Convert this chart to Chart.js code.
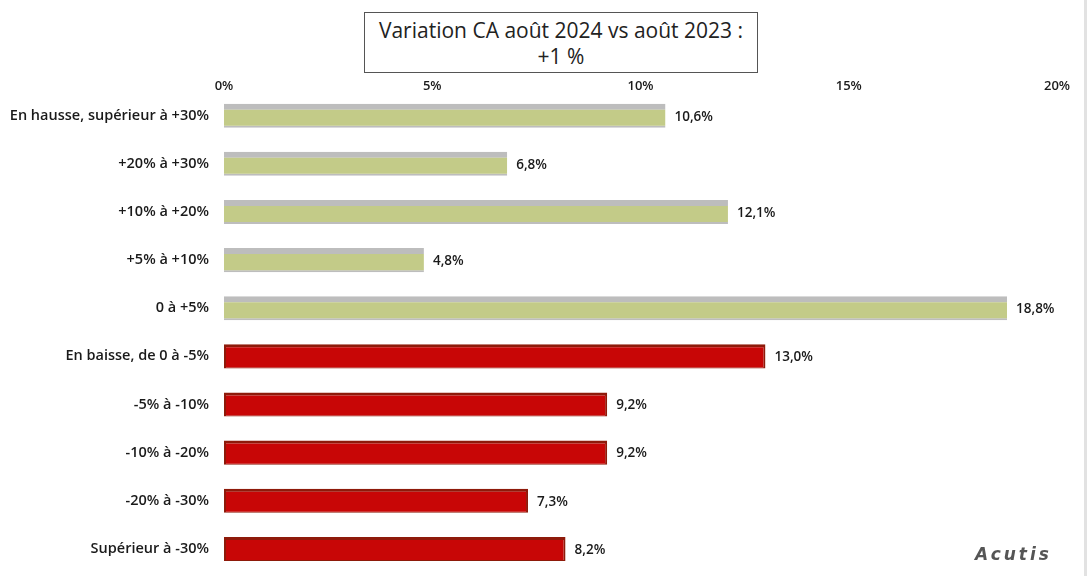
<!DOCTYPE html>
<html>
<head>
<meta charset="utf-8">
<script src="https://cdn.jsdelivr.net/npm/chart.js@4.4.1/dist/chart.umd.min.js"></script>
<style>
  html, body { margin: 0; padding: 0; background: #fff; }
  #wrap { position: relative; width: 1090px; height: 581px; overflow: hidden; }
  #c { position: absolute; left: 0; top: 0; }
  #title {
    position: absolute; left: 364px; top: 12px; width: 394px; height: 61px;
    border: 1px solid #555; box-sizing: border-box; text-align: center;
    font-family: "Open Sans", "DejaVu Sans", sans-serif; font-size: 21px; line-height: 26px;
    color: #222; padding-top: 4px; background: #fff;
  }
  #edge { position: absolute; left: 1084px; top: 0; width: 3px; height: 576px; background: #e2e2e2; }
  #wm {
    position: absolute; left: 975px; top: 544px; font-family: "DejaVu Sans", sans-serif;
    font-size: 17px; font-weight: bold; font-style: italic; color: #555; letter-spacing: 3px;
  }
</style>
</head>
<body>
<div id="wrap">
  <canvas id="c" width="1090" height="581"></canvas>
  <div id="title">Variation CA août 2024 vs août 2023 :<br>+1 %</div>
  <div id="edge"></div>
  <div id="wm">Acutis</div>
</div>
<script>
const categories = [
  "En hausse, supérieur à +30%",
  "+20% à +30%",
  "+10% à +20%",
  "+5% à +10%",
  "0 à +5%",
  "En baisse, de 0 à -5%",
  "-5% à -10%",
  "-10% à -20%",
  "-20% à -30%",
  "Supérieur à -30%"
];
const values = [10.6, 6.8, 12.1, 4.8, 18.8, 13.0, 9.2, 9.2, 7.3, 8.2];
const isRise = [true, true, true, true, true, false, false, false, false, false];
const xTicks = [0, 5, 10, 15, 20];

const GREEN = "#c3cb88", GREEN_EDGE = "#bdbdbd";
const RED = "#c80606", RED_EDGE = "#8e1a0a";
const FONT = "'Open Sans', 'DejaVu Sans', sans-serif";

const labelPlugin = {
  id: "valueLabels",
  afterDatasetsDraw(chart) {
    const ctx = chart.ctx;
    const meta = chart.getDatasetMeta(0);
    ctx.save();
    ctx.font = "600 13.5px " + FONT;
    ctx.fillStyle = "#1a1a1a";
    ctx.textAlign = "left";
    ctx.textBaseline = "middle";
    meta.data.forEach((bar, i) => {
      const txt = values[i].toFixed(1).replace(".", ",") + "%";
      ctx.fillText(txt, bar.x + 9, bar.y + 1);
    });
    ctx.restore();
  }
};

new Chart(document.getElementById("c"), {
  type: "bar",
  data: {
    labels: categories,
    datasets: [{
      data: values,
      backgroundColor: isRise.map(r => r ? GREEN : RED),
      borderColor: isRise.map(r => r ? GREEN_EDGE : RED_EDGE),
      borderWidth: isRise.map(r => r ? { top: 6, bottom: 2, left: 0, right: 0 } : { top: 3, bottom: 1, left: 2, right: 2 }),
      borderSkipped: false,
      categoryPercentage: 0.5,
      barPercentage: 1
    }]
  },
  options: {
    indexAxis: "y",
    responsive: false,
    animation: false,
    devicePixelRatio: 1,
    layout: { padding: { top: 80, right: 33, bottom: 8, left: 0 } },
    plugins: { legend: { display: false }, tooltip: { enabled: false }, title: { display: false } },
    scales: {
      x: {
        position: "top",
        min: 0, max: 20,
        afterBuildTicks: s => { s.ticks = xTicks.map(v => ({ value: v })); },
        grid: { display: false, drawTicks: false },
        border: { display: false },
        ticks: {
          padding: -2,
          color: "#1a1a1a",
          font: { family: FONT, size: 13, weight: "600" },
          callback: v => v + "%",
          maxRotation: 0
        }
      },
      y: {
        grid: { display: false, drawTicks: false },
        border: { display: false },
        afterFit: s => { s.width = 224; s.paddingTop = 0; s.paddingBottom = 0; },
        ticks: {
          padding: 15,
          color: "#1a1a1a",
          font: { family: FONT, size: 14.5, weight: "600" },
          autoSkip: false
        }
      }
    }
  },
  plugins: [labelPlugin]
});
</script>
</body>
</html>
